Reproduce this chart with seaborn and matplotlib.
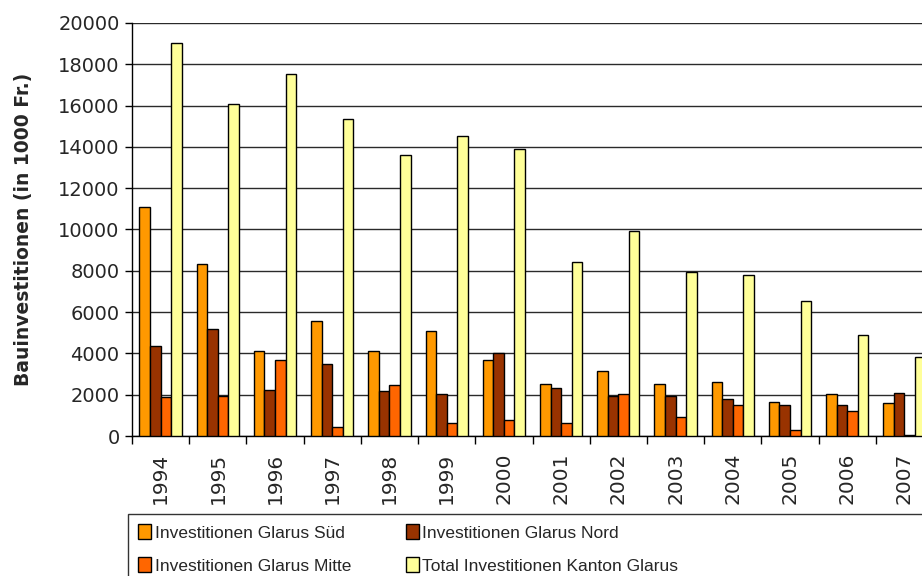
"""Bauinvestitionen im Kanton Glarus 1994-2007, nach Region."""

import matplotlib
matplotlib.use("Agg")
import matplotlib.pyplot as plt
from matplotlib.patches import Rectangle
import pandas as pd
import seaborn as sns

years = ["1994", "1995", "1996", "1997", "1998", "1999", "2000",
         "2001", "2002", "2003", "2004", "2005", "2006", "2007"]
sued = [11100, 8340, 4130, 5580, 4130, 5080, 3690,
        2530, 3130, 2530, 2610, 1660, 2015, 1580]
nord = [4355, 5160, 2240, 3485, 2180, 2015, 4000,
        2320, 1950, 1950, 1805, 1515, 1515, 2100]
mitte = [1900, 1950, 3690, 435, 2470, 645, 775,
         645, 2030, 935, 1515, 275, 1225, 65]
total = [19050, 16080, 17530, 15340, 13600, 14530, 13880,
         8435, 9905, 7920, 7775, 6530, 4870, 3840]

series = ["Investitionen Glarus Süd", "Investitionen Glarus Nord",
          "Investitionen Glarus Mitte", "Total Investitionen Kanton Glarus"]
colors = ["#FF9900", "#993300", "#FF6600", "#FFFF99"]

df = pd.DataFrame({"year": years, series[0]: sued, series[1]: nord,
                   series[2]: mitte, series[3]: total})
long_df = df.melt(id_vars="year", var_name="serie", value_name="wert")

sns.set_theme(style="white")
plt.rcParams["font.family"] = ["DejaVu Sans"]

fig = plt.figure(figsize=(9.22, 5.76), dpi=100)
ax = fig.add_axes([132 / 922, 1 - 436 / 576, 801 / 922, 413 / 576])

sns.barplot(
    data=long_df, x="year", y="wert", hue="serie", hue_order=series,
    palette=dict(zip(series, colors)), width=0.74, gap=0,
    edgecolor="black", linewidth=1, saturation=1, ax=ax, zorder=3,
)

ax.set_xlim(-0.5, len(years) - 0.5)
ax.set_ylim(0, 20000)
ax.set_yticks(range(0, 20001, 2000))
ax.yaxis.grid(True, color="#2a2a2a", linewidth=1, zorder=0)
ax.set_axisbelow(True)

for side in ["top", "right"]:
    ax.spines[side].set_visible(False)
for side in ["left", "bottom"]:
    ax.spines[side].set_color("black")
    ax.spines[side].set_linewidth(1)

ax.tick_params(axis="y", which="major", left=True, length=5, width=1,
               color="black", labelsize=14, pad=4)
ax.tick_params(axis="x", which="major", bottom=False, labelsize=14.5,
               labelrotation=90, pad=6)
ax.set_xticks([i + 0.5 for i in range(-1, len(years))], minor=True)
ax.tick_params(axis="x", which="minor", bottom=True, length=6, width=1,
               color="black")

ax.set_xlabel("")
ax.set_ylabel("Bauinvestitionen (in 1000 Fr.)", fontsize=13.5,
              fontweight="bold", labelpad=18)

# legend box runs past the right and bottom edge, like the original
fig.patches.append(Rectangle((128 / 922, 1 - 600 / 576), 820 / 922, 86 / 576,
                             transform=fig.transFigure, facecolor="white",
                             edgecolor="#333333", linewidth=1, zorder=0))

handles, labels = ax.get_legend_handles_labels()
order = [0, 2, 1, 3]
ax.get_legend().remove()
fig.legend(
    [handles[i] for i in order], [labels[i] for i in order],
    ncol=2, loc="upper left", bbox_to_anchor=(128 / 922, 1 - 514 / 576),
    frameon=False, borderaxespad=0,
    prop={"family": ["Liberation Sans"], "size": 12.5},
    handlelength=0.75, handleheight=0.95, handletextpad=0.2,
    columnspacing=3.15, labelspacing=0.95, borderpad=0.6,
)

fig.savefig("out.png", dpi=100)
